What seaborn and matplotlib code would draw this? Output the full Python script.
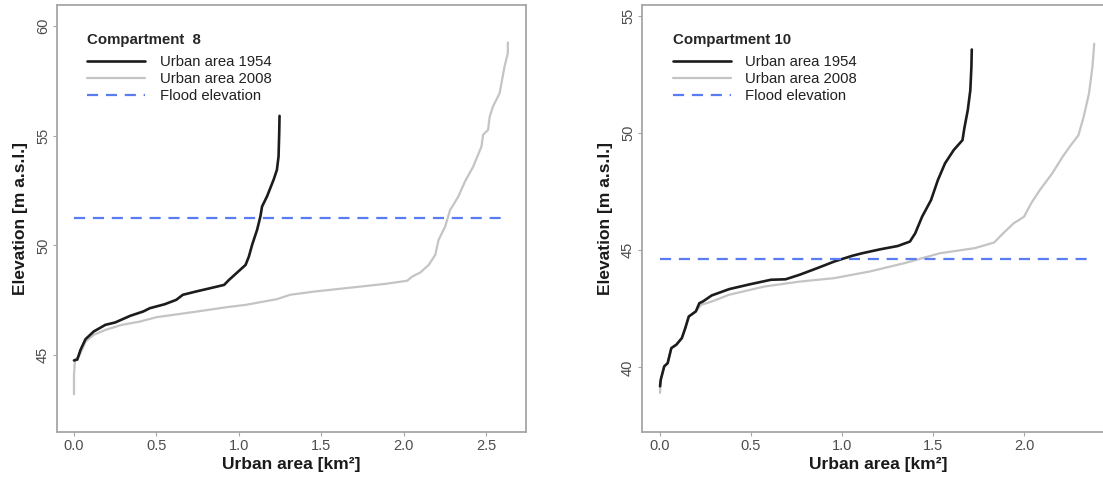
import numpy as np
import pandas as pd
import matplotlib
matplotlib.use("Agg")
import matplotlib.pyplot as plt
import seaborn as sns
from matplotlib.lines import Line2D

# Compartment 8: hypsometric curves (cumulative urban area vs elevation)
c8_1954_area = [0.0, 0.02, 0.04, 0.07, 0.12, 0.19, 0.25, 0.34, 0.42, 0.46, 0.55, 0.62, 0.66,
                0.74, 0.82, 0.91, 0.94, 0.99, 1.04, 1.06, 1.08, 1.11, 1.13, 1.14, 1.17, 1.21,
                1.23, 1.24, 1.244, 1.246]
c8_1954_elev = [44.76, 44.8, 45.25, 45.73, 46.08, 46.38, 46.49, 46.79, 46.99, 47.14, 47.32,
                47.52, 47.75, 47.9, 48.04, 48.2, 48.43, 48.77, 49.11, 49.49, 50.03, 50.71,
                51.32, 51.77, 52.23, 52.99, 53.44, 54.05, 55.11, 55.9]
c8_2008_area = [0.0, 0.0, 0.006, 0.03, 0.07, 0.12, 0.19, 0.29, 0.4, 0.5, 0.72, 0.93, 1.04,
                1.23, 1.31, 1.46, 1.67, 1.89, 2.02, 2.05, 2.1, 2.15, 2.19, 2.21, 2.25, 2.28,
                2.3, 2.33, 2.37, 2.42, 2.47, 2.48, 2.51, 2.52, 2.54, 2.58, 2.61, 2.63, 2.63]
c8_2008_elev = [43.22, 44.1, 44.79, 44.94, 45.62, 45.93, 46.15, 46.38, 46.53, 46.73, 46.96,
                47.19, 47.29, 47.55, 47.75, 47.9, 48.07, 48.25, 48.39, 48.58, 48.77, 49.11,
                49.57, 50.25, 50.86, 51.62, 51.85, 52.23, 52.91, 53.59, 54.5, 55.04, 55.26,
                55.87, 56.33, 56.93, 58.15, 58.76, 59.24]
c8_flood_elev = 51.25
c8_flood_span = [0.0, 2.61]

# Compartment 10
c10_1954_area = [0.0, 0.004, 0.023, 0.042, 0.062, 0.09, 0.12, 0.139, 0.158, 0.197, 0.216,
                 0.235, 0.284, 0.38, 0.496, 0.61, 0.69, 0.766, 0.862, 0.958, 1.055, 1.11,
                 1.21, 1.306, 1.373, 1.402, 1.44, 1.489, 1.527, 1.566, 1.614, 1.662, 1.672,
                 1.691, 1.705, 1.711, 1.713]
c10_1954_elev = [39.19, 39.47, 40.04, 40.18, 40.82, 40.97, 41.25, 41.68, 42.17, 42.39, 42.74,
                 42.81, 43.07, 43.34, 43.55, 43.74, 43.76, 43.95, 44.23, 44.52, 44.76, 44.87,
                 45.04, 45.18, 45.37, 45.72, 46.43, 47.14, 48.0, 48.71, 49.28, 49.7, 50.2,
                 50.98, 51.83, 52.83, 53.57]
c10_2008_area = [0.0, 0.004, 0.023, 0.042, 0.062, 0.09, 0.12, 0.139, 0.158, 0.197, 0.226,
                 0.284, 0.38, 0.573, 0.766, 0.958, 1.151, 1.344, 1.44, 1.537, 1.73, 1.836,
                 1.885, 1.943, 2.0, 2.039, 2.087, 2.155, 2.212, 2.251, 2.299, 2.328, 2.357,
                 2.376, 2.386]
c10_2008_elev = [38.91, 39.47, 40.04, 40.18, 40.82, 40.97, 41.25, 41.68, 42.17, 42.39, 42.67,
                 42.81, 43.1, 43.45, 43.66, 43.81, 44.09, 44.45, 44.66, 44.87, 45.09, 45.33,
                 45.72, 46.15, 46.43, 47.0, 47.57, 48.28, 48.99, 49.42, 49.91, 50.7, 51.69,
                 52.83, 53.82]
c10_flood_elev = 44.62
c10_flood_span = [0.0, 2.38]

series_labels = ["Urban area 1954", "Urban area 2008", "Flood elevation"]

sns.set_style("white")
plt.rcParams["font.family"] = ["Liberation Sans", "DejaVu Sans"]

W, H = 1103, 482
fig = plt.figure(figsize=(W / 100, H / 100), dpi=100)

FRAME = "#a6a6a6"
TICKLAB = "#4d4d4d"
C1954 = "#1c1c1c"
C2008 = "#c4c4c4"
CFLOOD = "#5a7cf2"


def px_axes(l, r, t, b):
    return fig.add_axes([l / W, (H - b) / H, (r - l) / W, (b - t) / H])


def draw_panel(ax, a54, e54, a08, e08, flood, span, title, xlim, ylim, xticks, yticks):
    df = pd.concat([
        pd.DataFrame({"area": a08, "elev": e08, "series": series_labels[1]}),
        pd.DataFrame({"area": a54, "elev": e54, "series": series_labels[0]}),
    ], ignore_index=True)
    sns.lineplot(data=df[df.series == series_labels[1]], x="area", y="elev",
                 sort=False, estimator=None, color=C2008, lw=1.6, ax=ax, legend=False)
    sns.lineplot(data=df[df.series == series_labels[0]], x="area", y="elev",
                 sort=False, estimator=None, color=C1954, lw=1.9, ax=ax, legend=False)
    fl = pd.DataFrame({"area": span, "elev": [flood, flood]})
    sns.lineplot(data=fl, x="area", y="elev", color=CFLOOD, lw=1.6,
                 dashes=False, ax=ax, legend=False)
    ax.lines[-1].set_dashes([5, 3.5])

    ax.set_xlim(*xlim)
    ax.set_ylim(*ylim)
    ax.set_xticks(xticks)
    ax.set_xticklabels([f"{v:.1f}" for v in xticks])
    ax.set_yticks(yticks)
    ax.set_yticklabels([str(v) for v in yticks])
    ax.tick_params(axis="both", which="major", direction="out", length=3, width=0.8,
                   color=FRAME, labelcolor=TICKLAB, labelsize=10.5, pad=2, left=True,
                   bottom=True)
    ax.tick_params(axis="y", labelrotation=90)
    for lab in ax.get_yticklabels():
        lab.set_va("center")
    for sp in ax.spines.values():
        sp.set_color(FRAME)
        sp.set_linewidth(1.3)

    ax.set_xlabel("Urban area [km²]", fontsize=12.5, fontweight="bold", labelpad=3,
                  color="#1a1a1a")
    ax.set_ylabel("Elevation [m a.s.l.]", fontsize=12.5, fontweight="bold", labelpad=6,
                  color="#1a1a1a")

    handles = [Line2D([], [], color=C1954, lw=1.9),
               Line2D([], [], color=C2008, lw=1.6),
               Line2D([], [], color=CFLOOD, lw=1.6, dashes=[5, 3.5])]
    leg = ax.legend(handles, series_labels, title=title, loc="upper left",
                    bbox_to_anchor=(0.065, 0.935), frameon=False, borderpad=0,
                    borderaxespad=0, fontsize=10.7, handlelength=3.9, handletextpad=0.95,
                    labelspacing=0.2, alignment="left")
    leg.get_title().set_fontweight("bold")
    leg.get_title().set_fontsize(10.8)
    leg._legend_box.sep = 6
    for t in leg.get_texts():
        t.set_color("#222222")


ax1 = px_axes(57, 526, 5, 432)
draw_panel(ax1, c8_1954_area, c8_1954_elev, c8_2008_area, c8_2008_elev,
           c8_flood_elev, c8_flood_span, "Compartment  8",
           (-0.103, 2.74), (41.5, 60.95), [0.0, 0.5, 1.0, 1.5, 2.0, 2.5], [45, 50, 55, 60])

ax2 = px_axes(642, 1115, 5, 432)
draw_panel(ax2, c10_1954_area, c10_1954_elev, c10_2008_area, c10_2008_elev,
           c10_flood_elev, c10_flood_span, "Compartment 10",
           (-0.099, 2.5), (37.24, 55.47), [0.0, 0.5, 1.0, 1.5, 2.0], [40, 45, 50, 55])

fig.savefig("out.png", dpi=100)
